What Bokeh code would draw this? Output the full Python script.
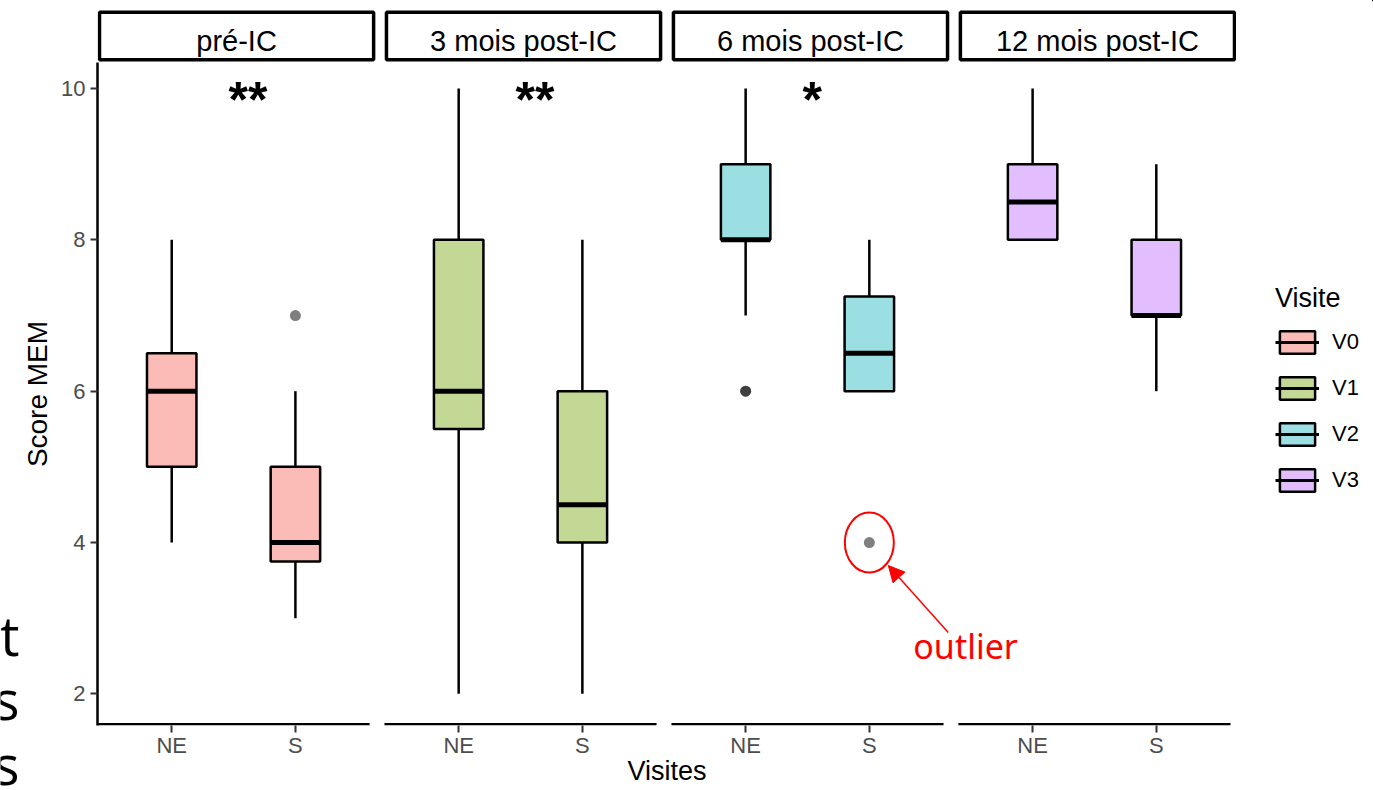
from bokeh.plotting import figure
from bokeh.layouts import row, column
from bokeh.models import (ColumnDataSource, Range1d, LinearAxis, FixedTicker,
                          Legend, LegendItem, Label, Arrow, NormalHead)
from bokeh.core.properties import value
from bokeh.embed import file_html
from bokeh.resources import INLINE

# ---- data -------------------------------------------------------------
panels = ["pré-IC", "3 mois post-IC", "6 mois post-IC", "12 mois post-IC"]
visits = ["V0", "V1", "V2", "V3"]
groups = ["NE", "S"]
colors = ["#FBBBB7", "#C4D896", "#9BDFE2", "#E3BEFF"]

# box statistics per visit, in group order [NE, S]
whisker_low = [[4, 3], [2, 2], [7, 6], [8, 6]]
q1 = [[5, 3.75], [5.5, 4], [8, 6], [8, 7]]
median = [[6, 4], [6, 4.5], [8, 6.5], [8.5, 7]]
q3 = [[6.5, 5], [8, 6], [9, 7.25], [9, 8]]
whisker_high = [[8, 6], [10, 8], [10, 8], [10, 9]]
outliers = [[[], [7]], [[], []], [[6, 6], [4]], [[], []]]
signif = ["**", "**", "*", ""]
y_ticks = [2, 4, 6, 8, 10]
side_text = ["t", "s", "s"]

# ---- layout constants ---------------------------------------------------
PANEL_W = 2.2          # two categories with 0.6 padding each side
GAP = 0.12             # space between facets
PX_X = 1 / 123.8       # data units per pixel, horizontal
PX_Y = 1 / 75.67       # data units per pixel, vertical
FRAME_W, FRAME_H = 1140, 663
X_END = FRAME_W * PX_X
Y_LO = 1.6
Y_START = 1.582
Y_END = Y_START + FRAME_H * PX_Y
BOX_W = 0.4
FONT = "Liberation Sans"
LEFT_W = 19            # margin column holding the clipped slide text
LEGEND_W = 137         # column holding the legend
STRIP_H = 62
MAIN_W = 1373 - LEFT_W - LEGEND_W


def origin(k):
    return k * (PANEL_W + GAP)


def xpos(k, j):
    return origin(k) + 0.6 + j


def bare(fig):
    fig.outline_line_color = None
    fig.xgrid.visible = False
    fig.ygrid.visible = False
    return fig


x_range = Range1d(0, X_END)

# ---- main panel figure --------------------------------------------------
p = bare(figure(width=MAIN_W, height=790 - STRIP_H, x_range=x_range,
                y_range=Range1d(Y_START, Y_END), x_axis_type=None, y_axis_type=None,
                output_backend="svg", toolbar_location=None,
                min_border_left=77, min_border_right=0, min_border_top=0,
                min_border_bottom=65))

yaxis = LinearAxis(ticker=FixedTicker(ticks=y_ticks), axis_label="Score MEM")
x_ticks = [xpos(k, j) for k in range(4) for j in range(2)]
xaxis = LinearAxis(ticker=FixedTicker(ticks=x_ticks),
                   major_label_overrides={t: groups[i % 2] for i, t in enumerate(x_ticks)},
                   axis_label="Visites")
for ax in (yaxis, xaxis):
    ax.axis_line_color = "black"
    ax.axis_line_width = 2.5
    ax.major_tick_line_color = "#333333"
    ax.major_tick_line_width = 2
    ax.major_tick_out = 7
    ax.major_tick_in = 0
    ax.minor_tick_line_color = None
    ax.major_label_text_font = FONT
    ax.major_label_text_font_size = "22px"
    ax.major_label_text_color = "#4D4D4D"
    ax.axis_label_text_font = FONT
    ax.axis_label_text_font_style = "normal"
    ax.axis_label_text_color = "black"
xaxis.axis_line_color = None
xaxis.major_label_standoff = 0
xaxis.axis_label_standoff = -5
xaxis.axis_label_text_font_size = "27px"
yaxis.major_label_standoff = 5
yaxis.axis_label_standoff = 5
yaxis.axis_label_text_font_size = "28px"
p.add_layout(yaxis, "left")
p.add_layout(xaxis, "below")

# separate x axis line under each facet
p.segment(x0=[origin(k) for k in range(4)], y0=Y_LO,
          x1=[origin(k) + PANEL_W for k in range(4)], y1=Y_LO,
          line_color="black", line_width=2.5)

sources = []
for k in range(4):
    xs = [xpos(k, j) for j in range(2)]
    src = ColumnDataSource(dict(
        x=xs, xl=[x - BOX_W / 2 for x in xs], xr=[x + BOX_W / 2 for x in xs],
        lo=whisker_low[k], q1=q1[k], med=median[k], q3=q3[k], hi=whisker_high[k]))
    sources.append(src)
    p.segment(x0="x", y0="lo", x1="x", y1="q1", source=src,
              line_color="black", line_width=2.5)
    p.segment(x0="x", y0="q3", x1="x", y1="hi", source=src,
              line_color="black", line_width=2.5)
    p.vbar(x="x", width=BOX_W, bottom="q1", top="q3", source=src,
           fill_color=colors[k], line_color="black", line_width=2.5)
    p.segment(x0="xl", y0="med", x1="xr", y1="med", source=src,
              line_color="black", line_width=5)

    ox, oy = [], []
    for j in range(2):
        for v in outliers[k][j]:
            ox.append(xpos(k, j))
            oy.append(v)
    if ox:
        p.scatter(ox, oy, size=11, fill_color="black", fill_alpha=0.5,
                  line_color=None)

# significance marks between the two groups of each facet
p.text(x=[(xpos(k, 0) + xpos(k, 1)) / 2 for k in range(4)],
       y=max(max(h) for h in whisker_high), text=signif,
       text_font=value(FONT), text_font_size="50px", text_font_style="bold",
       text_align="left", text_baseline="alphabetic",
       x_offset=-5, y_offset=11, text_color="black")

# outlier call-out
ox, oy = xpos(2, 1), outliers[2][1][0]
p.ellipse(x=[ox], y=[oy], width=49, height=60, width_units="screen",
          height_units="screen", fill_color=None, line_color="red", line_width=2)
p.add_layout(Arrow(end=NormalHead(size=16, fill_color="red", line_color="red"),
                   x_start=ox + 79 * PX_X, y_start=oy - 90 * PX_Y,
                   x_end=ox + 19 * PX_X, y_end=oy - 23 * PX_Y,
                   line_color="red", line_width=1.5))
p.add_layout(Label(x=ox + 44 * PX_X, y=oy - 103 * PX_Y, text="outlier",
                   text_font="Noto Sans", text_font_size="34px",
                   text_color="red", text_baseline="alphabetic"))

# ---- facet strip figure -------------------------------------------------
s = bare(figure(width=MAIN_W, height=STRIP_H, x_range=x_range,
                y_range=Range1d(STRIP_H, 0), x_axis_type=None, y_axis_type=None,
                output_backend="svg", toolbar_location=None,
                min_border_left=77, min_border_right=0, min_border_top=0,
                min_border_bottom=0))
strip_l = [origin(k) + 2 * PX_X for k in range(4)]
strip_r = [origin(k) + PANEL_W + 4 * PX_X for k in range(4)]
s.quad(left=strip_l, right=strip_r, bottom=59.2, top=11.7,
       fill_color="white", line_color="black", line_width=3.5)
s.text(x=[(a + b) / 2 for a, b in zip(strip_l, strip_r)], y=40.5, text=panels,
       text_font=value(FONT), text_font_size="29px", text_align="center",
       text_baseline="middle", text_color="black")

# ---- left margin: trailing letters of the adjacent slide text -------------
t = bare(figure(width=LEFT_W, height=790, x_range=Range1d(0, LEFT_W),
                y_range=Range1d(790, 0), x_axis_type=None, y_axis_type=None,
                output_backend="svg", toolbar_location=None, min_border=0))
t.text(x=LEFT_W, y=[634, 698, 763], text=side_text,
       text_font=value("Open Sans"), text_font_size="54px", text_align="right",
       text_baseline="alphabetic", text_color="black")

# ---- legend column ------------------------------------------------------
# key glyphs share the box sources; this column's ranges lie below all of the
# data, so only the legend keys are visible here
g = bare(figure(width=LEGEND_W, height=790, x_range=Range1d(-3, -2),
                y_range=Range1d(-3, -2), x_axis_type=None, y_axis_type=None,
                output_backend="svg", toolbar_location=None, min_border=0))
items = []
for k in range(4):
    key_box = g.vbar(x="x", width=BOX_W, bottom="q1", top="q3", source=sources[k],
                     fill_color=colors[k], line_color="black", line_width=2.5)
    key_med = g.segment(x0="xl", y0="med", x1="xr", y1="med", source=sources[k],
                        line_color="black", line_width=3)
    items.append(LegendItem(label=visits[k], renderers=[key_box, key_med]))
legend = Legend(items=items, title="Visite", location=(39, 296),
                glyph_width=44, glyph_height=28, spacing=18, label_standoff=13,
                padding=0, margin=0, border_line_color=None,
                background_fill_alpha=0, title_standoff=14,
                title_text_font=FONT, title_text_font_size="27px",
                title_text_font_style="normal", title_text_color="black",
                label_text_font=FONT, label_text_font_size="22px",
                label_text_color="black")
g.add_layout(legend, "center")

layout = row(t, column(s, p), g)
open("out.html", "w").write(file_html(layout, INLINE))
